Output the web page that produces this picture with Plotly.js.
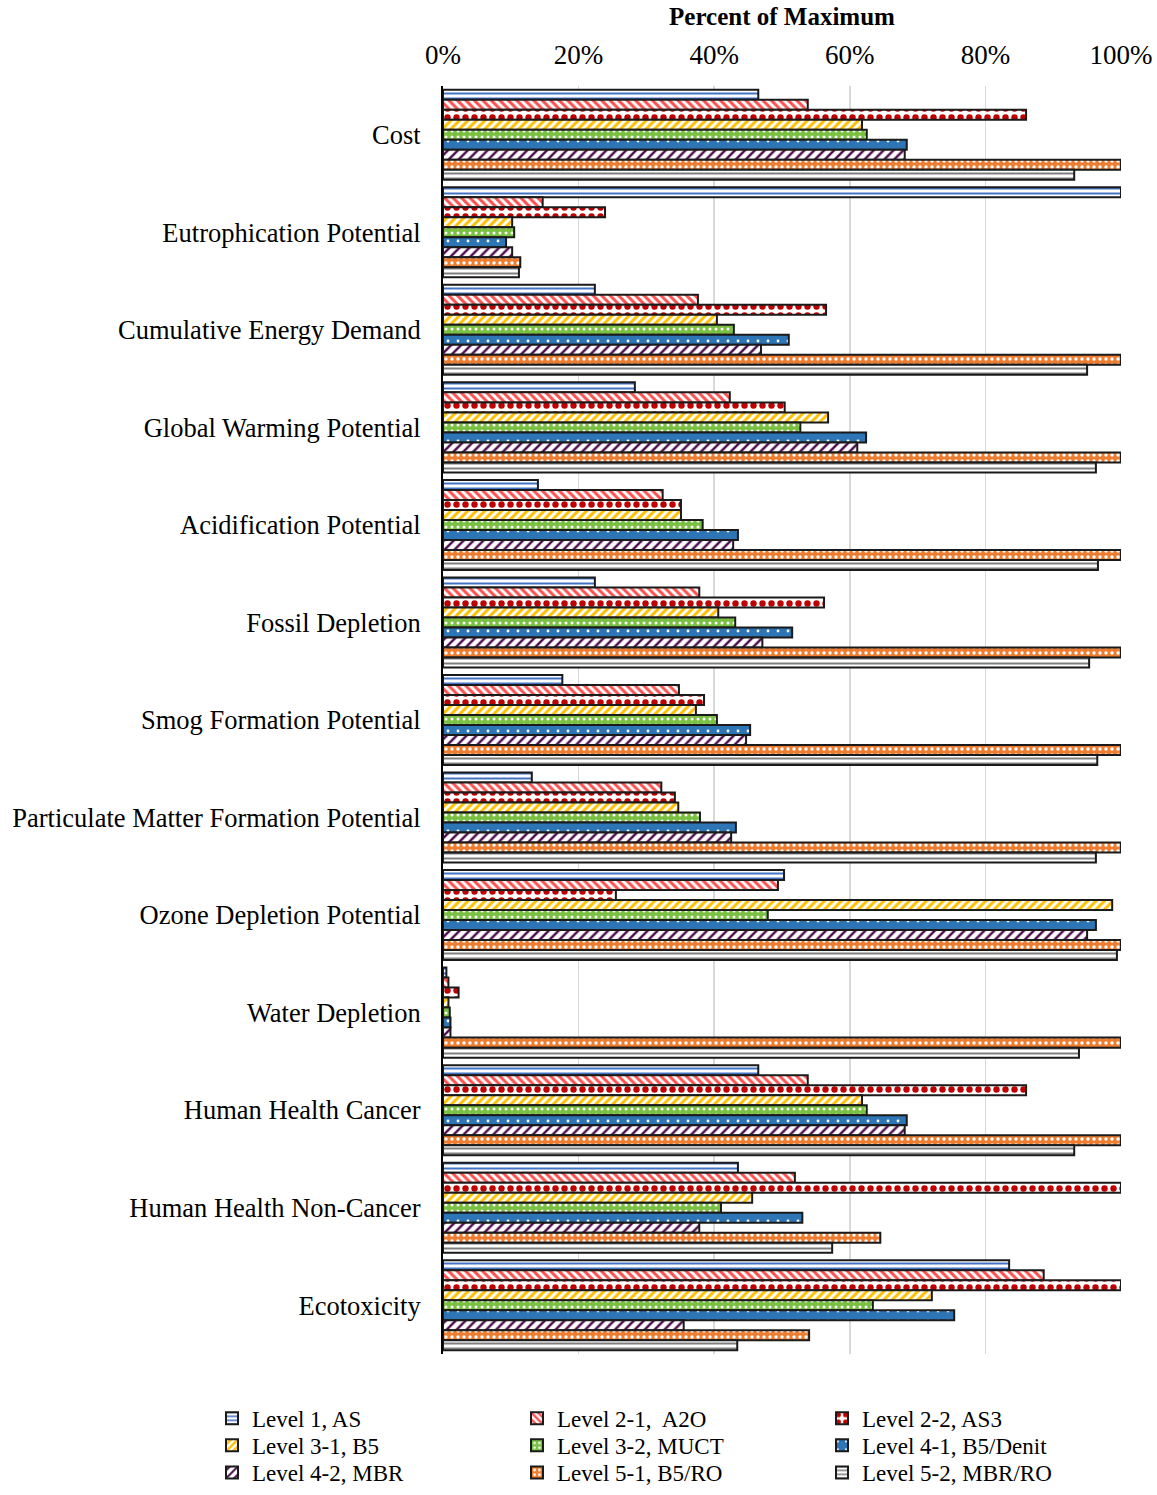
<!DOCTYPE html>
<html>
<head>
<meta charset="utf-8">
<script src="https://cdn.plot.ly/plotly-3.0.1.min.js"></script>
<style>html,body{margin:0;padding:0;background:#fff}</style>
</head>
<body>
<div id="chart" style="width:1157px;height:1495px"></div>
<script>
const categories = ["Cost","Eutrophication Potential","Cumulative Energy Demand","Global Warming Potential","Acidification Potential","Fossil Depletion","Smog Formation Potential","Particulate Matter Formation Potential","Ozone Depletion Potential","Water Depletion","Human Health Cancer","Human Health Non-Cancer","Ecotoxicity"];
const seriesNames = ["Level 1, AS","Level 2-1,  A2O","Level 2-2, AS3","Level 3-1, B5","Level 3-2, MUCT","Level 4-1, B5/Denit","Level 4-2, MBR","Level 5-1, B5/RO","Level 5-2, MBR/RO"];
const level1   = [46.5,100, 22.4,28.3,14.0,22.4,17.6,13.1,50.3,0.5, 46.5,43.5,83.5];
const level2_1 = [53.8,14.7,37.6,42.3,32.4,37.8,34.8,32.2,49.4,0.8, 53.8,51.9,88.6];
const level2_2 = [86.0,23.9,56.5,50.4,35.1,56.2,38.5,34.2,25.5,2.3, 86.0,100, 100];
const level3_1 = [61.8,10.2,40.4,56.8,35.1,40.6,37.3,34.7,98.7,0.8, 61.8,45.6,72.1];
const level3_2 = [62.5,10.5,42.9,52.7,38.3,43.1,40.4,37.9,47.9,1.0, 62.5,41.0,63.4];
const level4_1 = [68.4,9.3, 51.0,62.4,43.5,51.5,45.3,43.2,96.3,1.1, 68.4,53.0,75.4];
const level4_2 = [68.1,10.2,46.9,61.1,42.8,47.1,44.7,42.5,95.0,1.1, 68.1,37.8,35.5];
const level5_1 = [100, 11.4,100, 100, 100, 100, 100, 100, 100, 100, 100, 64.5,54.0];
const level5_2 = [93.1,11.2,95.0,96.3,96.6,95.3,96.5,96.3,99.4,93.8,93.1,57.4,43.4];
const xTickVals = [0,20,40,60,80,100];
const xTickText = ["0%","20%","40%","60%","80%","100%"];

const allSeries = [level1,level2_1,level2_2,level3_1,level3_2,level4_1,level4_2,level5_1,level5_2];
const styles = [
  {bg:"#ffffff", fg:"#4472C4", shape:"-", size:5, sol:0.4},
  {bg:"#ffffff", fg:"#FF5050", shape:"\\", size:6, sol:0.5},
  {bg:"#ffffff", fg:"#C00000", shape:".", size:9, sol:0.4},
  {bg:"#ffffff", fg:"#FFC000", shape:"/", size:6, sol:0.5},
  {bg:"#7AC143", fg:"#ffffff", shape:".", size:6, sol:0.2},
  {bg:"#2E75B6", fg:"#ffffff", shape:".", size:10, sol:0.06},
  {bg:"#ffffff", fg:"#4B0A4B", shape:"/", size:7, sol:0.35},
  {bg:"#ED7D31", fg:"#ffffff", shape:".", size:6, sol:0.25},
  {bg:"#ffffff", fg:"#7F7F7F", shape:"-", size:5, sol:0.4}
];
const legendIds = ["legend","legend","legend","legend2","legend2","legend2","legend3","legend3","legend3"];
const font = "Liberation Serif, Times New Roman, serif";
const traces = allSeries.map((vals,i)=>({
  type:"bar", orientation:"h", name:seriesNames[i],
  x:vals, y:categories, legend:legendIds[i],
  marker:{color:styles[i].bg, line:{color:"#1a1a1a", width:2},
    pattern:{shape:styles[i].shape, fgcolor:styles[i].fg, bgcolor:styles[i].bg, fillmode:"replace", size:styles[i].size, solidity:styles[i].sol}},
  hoverinfo:"skip"
}));
function leg(y){
  return {orientation:"h", x:-0.3407, xanchor:"left", y:y, yanchor:"middle",
    entrywidth:260, entrywidthmode:"pixels", traceorder:"normal",
    font:{family:font, size:23, color:"#000"}, itemwidth:30, bgcolor:"rgba(0,0,0,0)", borderwidth:0};
}
const layout = {
  width:1157, height:1495,
  margin:{l:443, r:36, t:86, b:141, autoexpand:false},
  paper_bgcolor:"#fff", plot_bgcolor:"#fff",
  font:{family:font, size:26, color:"#000"},
  barmode:"group", bargap:0.077, bargroupgap:0,
  showlegend:true,
  xaxis:{side:"top", range:[0,100], tickvals:xTickVals, ticktext:xTickText,
    showgrid:true, gridcolor:"#d9d9d9", gridwidth:1.5, zeroline:false, showline:false,
    ticks:"", ticklabelstandoff:16, tickfont:{family:font, size:27},
    title:{text:"<b>Percent of Maximum</b>", font:{family:font, size:25}, standoff:6}},
  yaxis:{type:"category", autorange:"reversed", showgrid:false, zeroline:false,
    showline:true, linecolor:"#000", linewidth:2, ticks:"", ticklabelstandoff:15,
    tickfont:{family:font, size:26.5}},
  legend:leg(-0.0508),
  legend2:leg(-0.0721),
  legend3:leg(-0.0934)
};
Plotly.newPlot("chart", traces, layout, {displayModeBar:false, staticPlot:true});
</script>
</body>
</html>
